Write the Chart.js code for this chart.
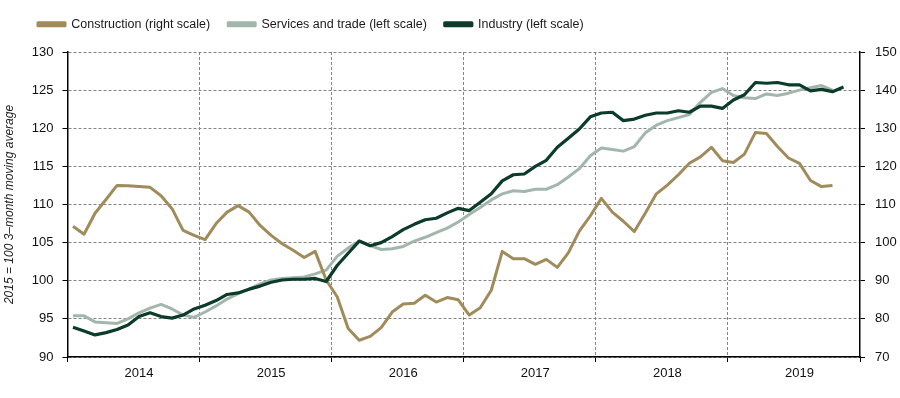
<!DOCTYPE html>
<html>
<head>
<meta charset="utf-8">
<script src="https://cdn.jsdelivr.net/npm/chart.js@4.4.1/dist/chart.umd.min.js"></script>
<style>
  html, body { margin: 0; padding: 0; background: #fff; }
  #wrap { width: 900px; height: 398px; position: relative; }
</style>
</head>
<body>
<div id="wrap"><canvas id="c" width="900" height="398"></canvas></div>
<script>
// ---- Data (monthly, Jan 2014 – Dec 2019) ----
const years = ['2014', '2015', '2016', '2017', '2018', '2019'];
const monthCodes = ['01','02','03','04','05','06','07','08','09','10','11','12'];

const construction = [
  104.3,102.2,107.7,111.3,115.0,114.9,114.7,114.5,112.3,108.9,103.2,101.9,
  100.8,105.0,108.0,109.7,108.0,104.5,101.9,99.7,98.0,96.1,97.7,90.2,
  85.8,77.5,74.4,75.4,77.7,81.8,83.9,84.1,86.2,84.4,85.6,85.0,
  81.0,82.9,87.5,97.7,95.8,95.8,94.3,95.6,93.5,97.3,103.0,107.0,
  111.6,108.0,105.6,102.9,107.8,112.8,115.1,117.8,120.8,122.5,125.0,121.5,
  121.0,123.2,128.9,128.6,125.2,122.2,120.8,116.3,114.7,115.0,null,null
];
const services = [
  95.4,95.4,94.6,94.5,94.4,95.0,95.8,96.4,96.9,96.3,95.5,95.2,
  95.9,96.7,97.6,98.3,98.9,99.6,100.1,100.3,100.4,100.5,100.9,101.4,
  103.2,104.3,105.2,104.6,104.1,104.2,104.5,105.2,105.7,106.3,106.9,107.7,
  108.7,109.6,110.6,111.4,111.8,111.7,112.0,112.0,112.6,113.6,114.7,116.4,
  117.4,117.2,117.0,117.6,119.4,120.4,121.0,121.4,121.8,123.4,124.7,125.2,
  124.3,124.0,123.9,124.5,124.3,124.6,125.0,125.3,125.6,125.0,null,null
];
const industry = [
  93.9,93.4,92.9,93.2,93.6,94.2,95.3,95.8,95.3,95.1,95.5,96.3,
  96.8,97.4,98.2,98.4,98.9,99.3,99.8,100.1,100.2,100.2,100.3,99.9,
  102.0,103.6,105.2,104.6,105.0,105.8,106.7,107.4,108.0,108.2,108.9,109.5,
  109.2,110.3,111.4,113.1,113.9,114.0,115.0,115.8,117.5,118.7,119.9,121.5,
  122.0,122.1,121.0,121.2,121.7,122.0,122.0,122.3,122.1,122.9,122.9,122.6,
  123.7,124.4,126.0,125.9,126.0,125.7,125.7,124.9,125.1,124.8,125.4,null
];
const seriesNames = ['Construction (right scale)', 'Services and trade (left scale)', 'Industry (left scale)'];
const leftTitle = '2015 = 100 3\u2013month moving average';

// category labels (one per month)
const months = [];
years.forEach(y => monthCodes.forEach(m => months.push(y + '-' + m)));

const GRID = '#858585';
const FONT = "'Liberation Sans', Arial, sans-serif";

// Small layout helper: extra space under the legend and a left indent for it
const legendTweak = {
  id: 'legendTweak',
  beforeLayout(chart) {
    const lg = chart.legend;
    if (lg && !lg._tweaked) {
      const orig = lg.fit.bind(lg);
      lg.fit = function () { orig(); this.height += 11.5; };
      lg._tweaked = true;
    }
  },
  afterLayout(chart) {
    if (chart.legend) { chart.legend.left = 20; }
  }
};

new Chart(document.getElementById('c'), {
  type: 'line',
  data: {
    labels: months,
    datasets: [
      { label: seriesNames[0], data: construction, yAxisID: 'y2', borderColor: '#a08c5b', backgroundColor: '#a08c5b', borderWidth: 3, order: 1 },
      { label: seriesNames[1], data: services, yAxisID: 'y', borderColor: '#a3b6ac', backgroundColor: '#a3b6ac', borderWidth: 3, order: 2 },
      { label: seriesNames[2], data: industry, yAxisID: 'y', borderColor: '#0c3b2a', backgroundColor: '#0c3b2a', borderWidth: 3.2, order: 0 }
    ]
  },
  plugins: [legendTweak],
  options: {
    responsive: false,
    animation: false,
    events: [],
    layout: { padding: { top: 0, left: 0, right: 0, bottom: 0 } },
    elements: { point: { radius: 0 }, line: { tension: 0, borderJoinStyle: 'round' } },
    plugins: {
      tooltip: { enabled: false },
      legend: {
        display: true,
        position: 'top',
        align: 'start',
        labels: {
          boxWidth: 27,
          boxHeight: 3,
          padding: 18,
          color: '#1a1a1a',
          font: { family: FONT, size: 12.5 },
          sort: (a, b) => a.datasetIndex - b.datasetIndex
        }
      }
    },
    scales: {
      x: {
        type: 'category',
        offset: true,
        afterFit: s => { s.height = 41; },
        grid: {
          offset: true,
          drawOnChartArea: true,
          color: c => (c.index !== undefined && c.index % 12 === 0) ? GRID : 'rgba(0,0,0,0)',
          tickColor: c => (c.index === undefined || c.index % 12 === 0) ? '#000' : 'rgba(0,0,0,0)',
          tickBorderDash: [],
          tickLength: 5,
          lineWidth: 1
        },
        border: { display: true, color: '#000', width: 1.5, dash: [3, 2] },
        ticks: {
          autoSkip: false,
          maxRotation: 0,
          minRotation: 0,
          padding: 4,
          color: '#111',
          font: { family: FONT, size: 13 },
          callback: (v, i) => (i % 12 === 6) ? years[Math.floor(i / 12)] : ''
        }
      },
      y: {
        position: 'left',
        min: 90, max: 130,
        afterFit: s => { s.width = 67.5; },
        grid: { color: GRID, tickColor: '#000', tickBorderDash: [], tickLength: 5, lineWidth: 1 },
        border: { display: true, color: '#000', width: 1.5, dash: [3, 2] },
        ticks: { stepSize: 5, padding: 9, color: '#111', font: { family: FONT, size: 13 } },
        title: { display: true, text: leftTitle, color: '#222', padding: { top: 2, bottom: 0 }, font: { family: FONT, size: 12, style: 'italic' } }
      },
      y2: {
        position: 'right',
        min: 70, max: 150,
        afterFit: s => { s.width = 40; },
        grid: { drawOnChartArea: false, tickColor: '#000', tickLength: 5 },
        border: { display: true, color: '#000', width: 1.5 },
        ticks: { stepSize: 10, padding: 10, color: '#111', font: { family: FONT, size: 13 } }
      }
    }
  }
});
</script>
</body>
</html>
